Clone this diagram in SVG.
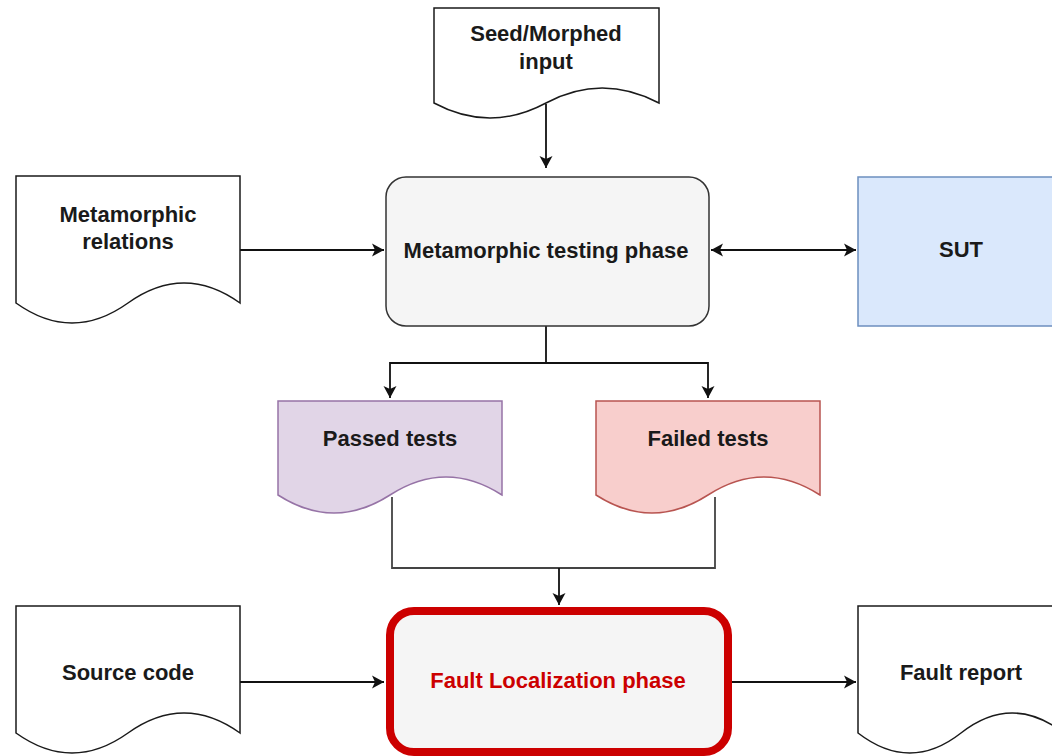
<svg xmlns="http://www.w3.org/2000/svg" width="1052" height="756" viewBox="0 0 1052 756">
  <style>
    .doc { fill: #ffffff; stroke: #1a1a1a; stroke-width: 1.5; }
    .passed { fill: #e1d5e7; stroke: #9673a6; stroke-width: 1.5; }
    .failed { fill: #f8cecc; stroke: #b85450; stroke-width: 1.5; }
    .process { fill: #f5f5f5; stroke: #333333; stroke-width: 1.5; }
    .sut { fill: #dae8fc; stroke: #6c8ebf; stroke-width: 1.5; }
    .fault { fill: #f5f5f5; stroke: #cc0000; stroke-width: 8; }
    .label { font-family: "Liberation Sans", Arial, sans-serif; font-size: 22px; font-weight: bold; fill: #1a1a1a; text-anchor: middle; }
    .red { fill: #cc0000; }
    .edge { fill: none; stroke: #111111; stroke-width: 1.8; }
    .edge-gray { fill: none; stroke: #444444; stroke-width: 1.8; }
  </style>
  <defs>
    <marker id="arrow" markerUnits="userSpaceOnUse" viewBox="-1 -8 15 16" markerWidth="15" markerHeight="16" refX="12" refY="0" orient="auto-start-reverse">
      <path d="M0,-6.5 L12,0 L0,6.5 L3,0 Z" fill="#111111"/>
    </marker>
  </defs>

  <rect width="1052" height="756" fill="#ffffff"/>

  <!-- connectors -->
  <g id="connectors">
    <path class="edge" d="M546,104 V168" marker-end="url(#arrow)"/>
    <path class="edge" d="M240,250 H384" marker-end="url(#arrow)"/>
    <path class="edge" d="M711,250 H856" marker-start="url(#arrow)" marker-end="url(#arrow)"/>
    <path class="edge" d="M546,326 V363 H390 V398" marker-end="url(#arrow)"/>
    <path class="edge" d="M546,363 H708 V398" marker-end="url(#arrow)"/>
    <path class="edge-gray" d="M392,497 V568 H715 V497"/>
    <path class="edge" d="M559,568 V605" marker-end="url(#arrow)"/>
    <path class="edge" d="M240,682 H384" marker-end="url(#arrow)"/>
    <path class="edge" d="M732,682 H856" marker-end="url(#arrow)"/>
  </g>

  <!-- Seed/Morphed input document -->
  <g id="seed-input">
    <path class="doc" d="M434,8 H659 V103 Q602,73 546,103 Q490,133 434,103 Z"/>
    <text class="label" x="546" y="41">Seed/Morphed</text>
    <text class="label" x="546" y="69">input</text>
  </g>

  <!-- Metamorphic relations document -->
  <g id="metamorphic-relations">
    <path class="doc" d="M16,176 H240 V303 Q184,263 128,303 Q72,343 16,303 Z"/>
    <text class="label" x="128" y="222">Metamorphic</text>
    <text class="label" x="128" y="249">relations</text>
  </g>

  <!-- Metamorphic testing phase -->
  <g id="testing-phase">
    <rect class="process" x="386" y="177" width="323" height="149" rx="20" ry="20"/>
    <text class="label" x="546" y="258">Metamorphic testing phase</text>
  </g>

  <!-- System under test -->
  <g id="sut">
    <rect class="sut" x="858" y="177" width="206" height="149"/>
    <text class="label" x="961" y="257">SUT</text>
  </g>

  <!-- Passed tests document -->
  <g id="passed-tests">
    <path class="passed" d="M278,401 H502 V495 Q446,459 390,495 Q334,531 278,495 Z"/>
    <text class="label" x="390" y="446">Passed tests</text>
  </g>

  <!-- Failed tests document -->
  <g id="failed-tests">
    <path class="failed" d="M596,401 H820 V495 Q764,459 708,495 Q652,531 596,495 Z"/>
    <text class="label" x="708" y="446">Failed tests</text>
  </g>

  <!-- Source code document -->
  <g id="source-code">
    <path class="doc" d="M16,606 H240 V733 Q184,693 128,733 Q72,773 16,733 Z"/>
    <text class="label" x="128" y="680">Source code</text>
  </g>

  <!-- Fault localization phase -->
  <g id="fault-localization">
    <rect class="fault" x="390" y="611" width="338" height="141" rx="24" ry="24"/>
    <text class="label red" x="558" y="688">Fault Localization phase</text>
  </g>

  <!-- Fault report document -->
  <g id="fault-report">
    <path class="doc" d="M858,606 H1064 V733 Q1012,693 961,733 Q910,773 858,733 Z"/>
    <text class="label" x="961" y="680">Fault report</text>
  </g>
</svg>
